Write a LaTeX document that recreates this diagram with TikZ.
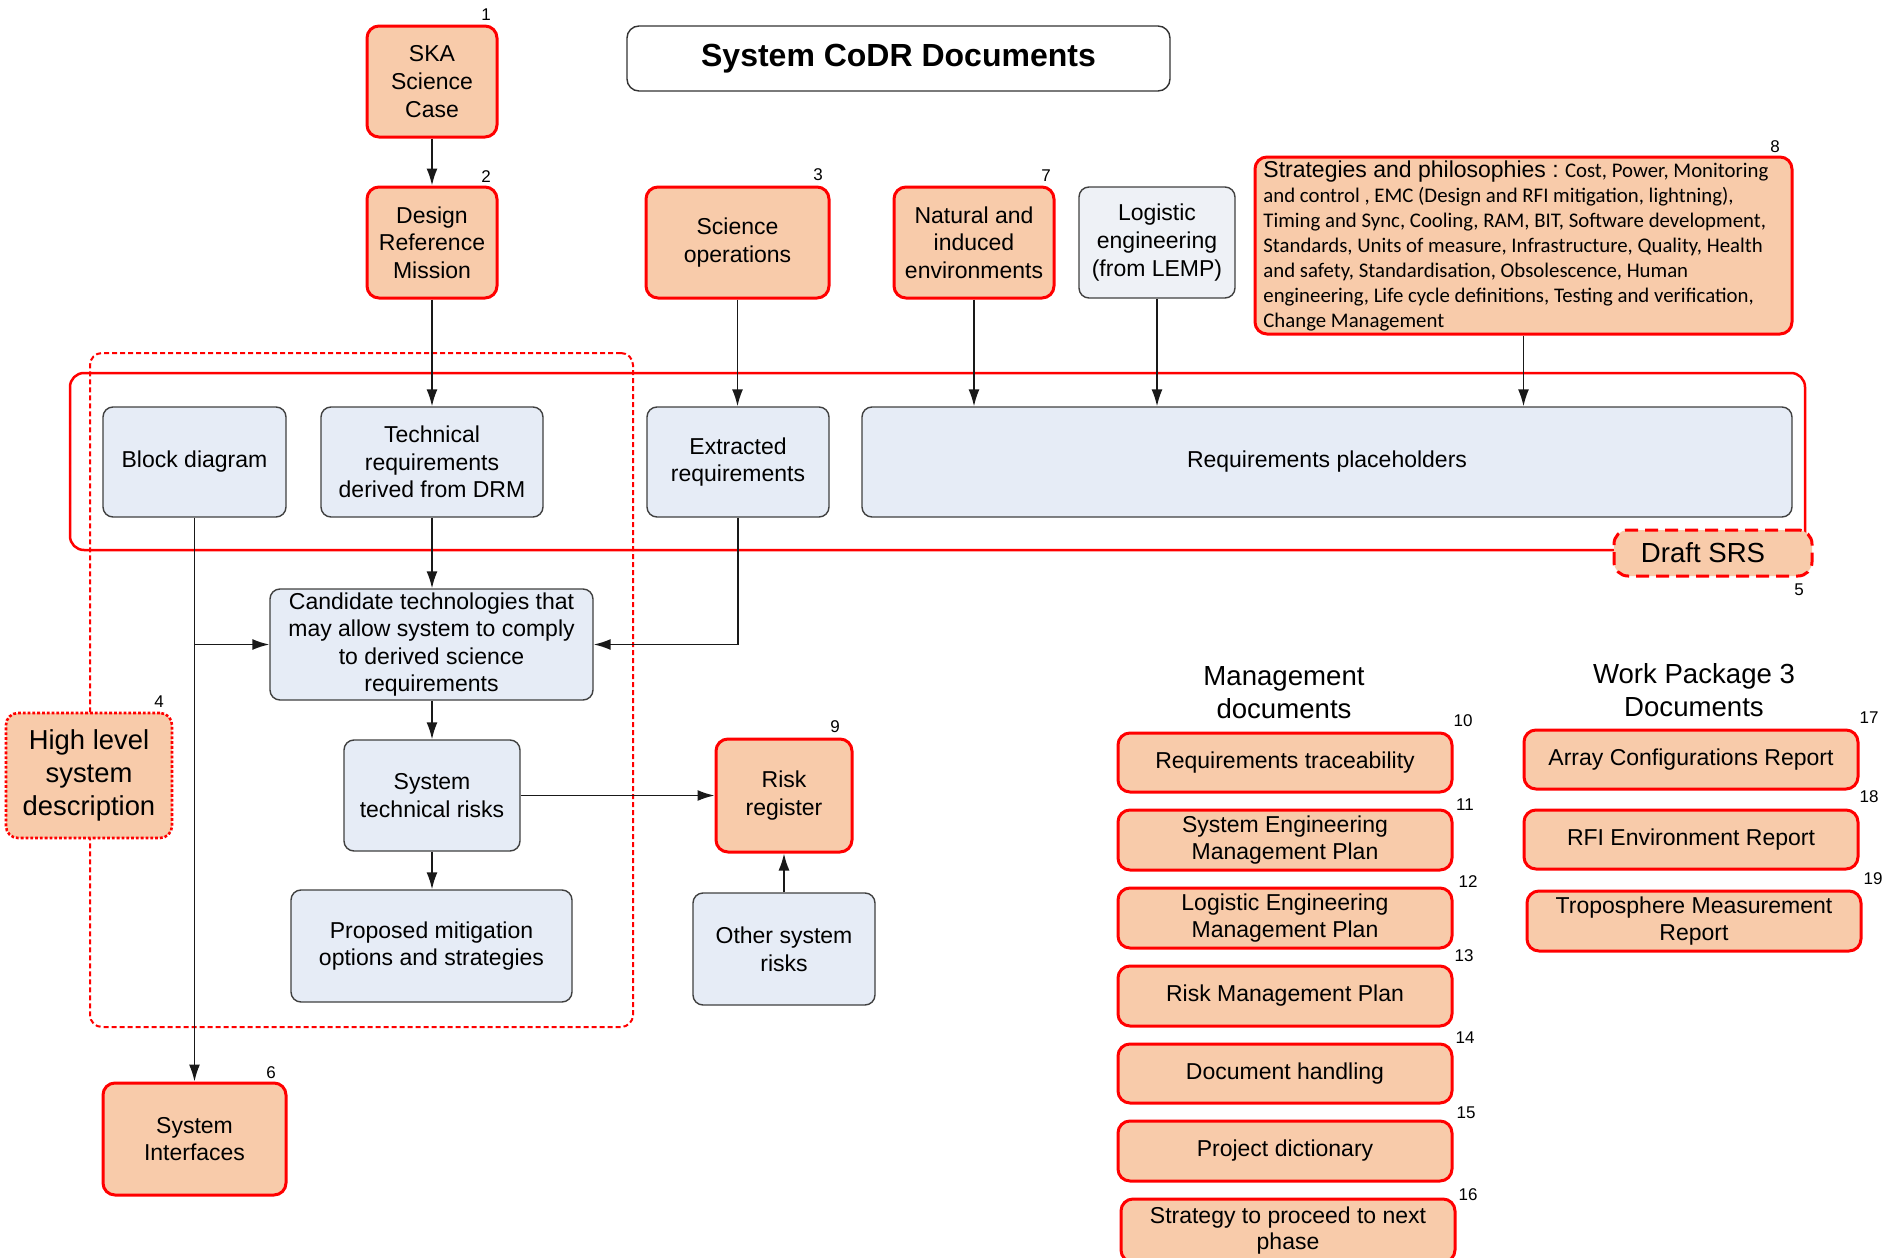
\documentclass[tikz,border=0pt]{standalone}
\usepackage{fontspec}
\setmainfont{Liberation Sans}
\newfontfamily\calib{Carlito}
\usetikzlibrary{arrows.meta}
\definecolor{cpeach}{HTML}{F8CBAA}
\definecolor{cblue}{HTML}{E6ECF6}
\definecolor{cgrey}{HTML}{EEF1F6}
\definecolor{cred}{HTML}{FF0000}
% \mkbox{style}{x1}{y1}{x2}{y2}{name}{text}
\newcommand\mkbox[7]{\node[#1, minimum width={(#4-#2)*0.5pt}, minimum height={(#5-#3)*0.5pt}] (#6) at ({(#2+#4)/2},{(#3+#5)/2}) {#7};}
\begin{document}
\begin{tikzpicture}[x=0.5pt,y=-0.5pt,
  every node/.style={font=\fontsize{11.5}{13.8}\selectfont},
  redbox/.style={draw=cred, line width=1.5pt, fill=cpeach, rounded corners=6pt, inner sep=0pt, align=center},
  bluebox/.style={draw=black!75, line width=0.7pt, fill=cblue, rounded corners=5pt, inner sep=0pt, align=center},
  frame/.style={inner sep=0pt, rounded corners=7pt},
  twoline/.style={font=\fontsize{11.5}{13.2}\selectfont},
  num/.style={font=\fontsize{8.5}{10}\selectfont, inner sep=0pt},
  hdr/.style={font=\fontsize{13.8}{16.5}\selectfont, align=center, inner sep=0pt},
  arr/.style={draw=black!90, line width=0.8pt, -{Latex[length=8.5pt,width=5.5pt]}},
]
\useasboundingbox (0,0) rectangle (1887,1258);

% group frames
\mkbox{frame, draw=cred, line width=1.25pt}{70}{373}{1805}{550}{srs}{}
\mkbox{frame, draw=cred, line width=1pt, dash pattern=on 2.5pt off 1.5pt, rounded corners=6pt}{90}{353}{633}{1027}{grp}{}

% title
\mkbox{frame, draw=black!80, line width=0.7pt, fill=white, rounded corners=6pt, font=\fontsize{16}{19}\selectfont\bfseries}{627}{26}{1170}{91}{title}{System CoDR Documents}

% top row
\mkbox{redbox}{367}{26}{497}{137}{ska}{SKA\\Science\\Case}
\mkbox{redbox}{367}{187}{497}{298}{drm}{Design\\Reference\\Mission}
\mkbox{redbox}{646}{187}{829}{298}{sciops}{Science\\operations}
\mkbox{redbox}{894}{187}{1054}{298}{nat}{Natural and\\induced\\environments}
\mkbox{bluebox, fill=cgrey}{1079}{187}{1235}{298}{log}{Logistic\\engineering\\(from LEMP)}
\mkbox{redbox}{1255}{157}{1792}{334}{strat}{}
\node[anchor=north west, inner sep=0pt, align=left, font=\calib\fontsize{10.4}{12.5}\selectfont] (stxt) at (1263,160)
 {{\rmfamily\fontsize{11.5}{12.5}\selectfont Strategies and philosophies :} Cost, Power, Monitoring\\
  and control , EMC (Design and RFI mitigation, lightning),\\
  Timing and Sync, Cooling, RAM, BIT, Software development,\\
  Standards, Units of measure, Infrastructure, Quality, Health\\
  and safety, Standardisation, Obsolescence, Human\\
  engineering, Life cycle definitions, Testing and verification,\\
  Change Management};

% draft SRS row
\mkbox{bluebox}{103}{407}{286}{517}{bd}{Block diagram}
\mkbox{bluebox}{321}{407}{543}{517}{tr}{Technical\\requirements\\derived from DRM}
\mkbox{bluebox}{647}{407}{829}{517}{ex}{Extracted\\requirements}
\mkbox{bluebox}{862}{407}{1792}{517}{rp}{Requirements placeholders}
\mkbox{redbox, dash pattern=on 6.5pt off 3.5pt, rounded corners=7pt, font=\fontsize{13.8}{16}\selectfont}{1614}{530}{1812}{576}{dsrs}{Draft SRS\hspace*{10pt}}

% middle
\mkbox{bluebox}{270}{589}{593}{700}{cand}{Candidate technologies that\\may allow system to comply\\to derived science\\requirements}
\mkbox{bluebox}{344}{740}{520}{851}{str}{System\\technical risks}
\mkbox{bluebox}{291}{890}{572}{1002}{prop}{Proposed mitigation\\options and strategies}
\mkbox{redbox}{716}{739}{852}{852}{rr}{Risk\\register}
\mkbox{bluebox}{693}{893}{875}{1005}{oth}{Other system\\risks}
\mkbox{redbox, line width=1.3pt, dash pattern=on 1.4pt off 1pt, font=\fontsize{13.7}{16.3}\selectfont}{6}{713}{172}{838}{hlsd}{High level\\system\\description}
\mkbox{redbox}{103}{1083}{286}{1195}{sysint}{System\\Interfaces}

% management documents
\node[hdr] (mh) at (1284,693) {Management\\documents};
\mkbox{redbox}{1118}{733}{1452}{792}{m10}{Requirements traceability}
\mkbox{redbox, twoline}{1118}{810}{1452}{870}{m11}{System Engineering\\Management Plan}
\mkbox{redbox, twoline}{1118}{888}{1452}{948}{m12}{Logistic Engineering\\Management Plan}
\mkbox{redbox}{1118}{966}{1452}{1026}{m13}{Risk Management Plan}
\mkbox{redbox}{1118}{1044}{1452}{1103}{m14}{Document handling}
\mkbox{redbox}{1118}{1121}{1452}{1181}{m15}{Project dictionary}
\mkbox{redbox, twoline}{1121}{1199}{1455}{1262}{m16}{Strategy to proceed to next\\phase}

% WP3 documents
\node[hdr] (wh) at (1694,690) {Work Package 3\\Documents};
\mkbox{redbox}{1524}{730}{1858}{789}{w17}{Array Configurations Report}
\mkbox{redbox}{1524}{810}{1858}{869}{w18}{RFI Environment Report}
\mkbox{redbox, twoline}{1527}{891}{1861}{951}{w19}{Troposphere Measurement\\Report}

% numbers
\node[num] (n1) at (486,15) {1};
\node[num] (n2) at (486,177) {2};
\node[num] (n3) at (818,175) {3};
\node[num] (n7) at (1046,176) {7};
\node[num] (n8) at (1775,147) {8};
\node[num] (n4) at (159,702) {4};
\node[num] (n9) at (835,727) {9};
\node[num] (n6) at (271,1073) {6};
\node[num] (n5) at (1799,590) {5};
\node[num] (n10) at (1463,721) {10};
\node[num] (n11) at (1465,805) {11};
\node[num] (n12) at (1468,882) {12};
\node[num] (n13) at (1464,956) {13};
\node[num] (n14) at (1465,1038) {14};
\node[num] (n15) at (1466,1113) {15};
\node[num] (n16) at (1468,1195) {16};
\node[num] (n17) at (1869,718) {17};
\node[num] (n18) at (1869,797) {18};
\node[num] (n19) at (1873,879) {19};

% connectors
\draw[arr] (ska) -- (drm);
\draw[arr] (drm) -- (tr);
\draw[arr] (sciops.south) -- (sciops.south |- ex.north);
\draw[arr] (nat.south) -- (nat.south |- rp.north);
\draw[arr] (log.south) -- (log.south |- rp.north);
\draw[arr] (strat.south) -- (strat.south |- rp.north);
\draw[arr] (tr.south) -- (tr.south |- cand.north);
\draw[arr] (str.north |- cand.south) -- (str.north);
\draw[arr] (str.south) -- (str.south |- prop.north);
\draw[arr] (str.east) -- (str.east -| rr.west);
\draw[arr] (oth) -- (rr);
\draw[arr] (bd) -- (sysint);
\coordinate (bj) at (bd.south |- cand.west);
\draw[arr] (bj) -- (cand.west);
\draw[arr] (ex.south) |- (cand.east);
\end{tikzpicture}
\end{document}
